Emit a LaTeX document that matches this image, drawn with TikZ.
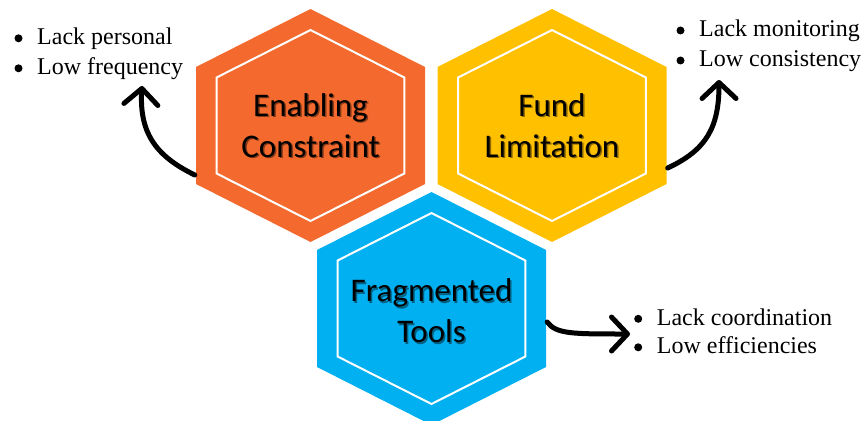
\documentclass[tikz,border=0pt]{standalone}
\usepackage{fontspec}
\setmainfont{Liberation Serif}
\newfontfamily\listfont{Liberation Serif}
\newfontfamily\cellfont{Carlito}
\usetikzlibrary{arrows.meta,calc}
\definecolor{cellorange}{HTML}{F46A2E}
\definecolor{cellyellow}{HTML}{FFC000}
\definecolor{cellblue}{HTML}{00B0F0}

\begin{document}
\begin{tikzpicture}[x=1pt,y=-1pt,
  hexcell/.pic={
    \fill[pic actions] (0,-116.5) -- (114.5,-58.5) -- (114.5,58.5) -- (0,116.5)
      -- (-114.5,58.5) -- (-114.5,-58.5) -- cycle;
    \draw[white,line width=2pt] (0,-95.5) -- (93.9,-48) -- (93.9,48) -- (0,95.5)
      -- (-93.9,48) -- (-93.9,-48) -- cycle;
  },
  cell/.style={minimum width=229pt,minimum height=233pt,inner sep=0pt,align=center,
    font=\cellfont\fontsize{33}{41}\selectfont},
  textshadow/.style={cell,text=black,text opacity=0.45},
  items/.style={anchor=base west,inner sep=0pt,font=\listfont\fontsize{24}{30}\selectfont},
  dot/.style={fill=black},
  link/.style={line width=5pt,line cap=round,
    -{Straight Barb[length=16pt,width=34pt,round]}}
]
\useasboundingbox (0,0) rectangle (864,420);

% hexagonal cells
\coordinate (cA) at (310.5,125.5);
\coordinate (cB) at (552,125.5);
\coordinate (cC) at (431.5,308.5);
\pic[fill=cellorange] at (cA) {hexcell};
\pic[fill=cellyellow] at (cB) {hexcell};
\pic[fill=cellblue]   at (cC) {hexcell};

% soft shadow under the cell titles
\node[textshadow] (enabSh) at ($(cA)+(1.5,1.5)$) {Enabling\\Constraint};
\node[textshadow] (fundSh) at ($(cB)+(1.5,1.5)$) {Fund\\Limitation};
\node[textshadow] (fragSh) at ($(cC)+(1.5,4)$) {Fragmented\\Tools};

\node[cell] (enab) at (cA) {Enabling\\Constraint};
\node[cell] (fund) at (cB) {Fund\\Limitation};
\node[cell] (frag) at ($(cC)+(0,2.5)$) {Fragmented\\Tools};

% bullet lists (text starts after the bullet column)
\node[items] (lp) at (37,44.5) {\begin{tabular}[t]{@{}l@{}}
  Lack personal\\ Low frequency\end{tabular}};
\node[items] (lm) at (699,36.7) {\begin{tabular}[t]{@{}l@{}}
  Lack monitoring\\ Low consistency\end{tabular}};
\node[items,font=\listfont\fontsize{24}{28.5}\selectfont] (lc) at (656.7,325) {\begin{tabular}[t]{@{}l@{}}
  Lack coordination\\ Low efficiencies\end{tabular}};

% round bullets in front of each line
\foreach \l/\gap in {lp/30, lm/30, lc/28.5}{
  \fill[dot] ($(\l.base west)+(-18.5,-6.2)$) circle (4pt);
  \fill[dot] ($(\l.base west)+(-18.5,\gap-6.2)$) circle (4pt);
}

% curved arrows from the cells to their lists
\coordinate (lpTip) at (142,86);
\coordinate (lmTip) at (719,80);
\coordinate (lcTip) at (630,334);
\draw[link] ($(enab.west)+(-1,49.5)$) .. controls (158,157) and (139,135) .. (lpTip);
\draw[link] ($(fund.east)+(1,42.5)$) .. controls (706,150) and (719,128) .. (lmTip);
\draw[link] ($(frag.east)+(1,11)$) .. controls (556,334) and (572,334) .. (lcTip);
\end{tikzpicture}
\end{document}
